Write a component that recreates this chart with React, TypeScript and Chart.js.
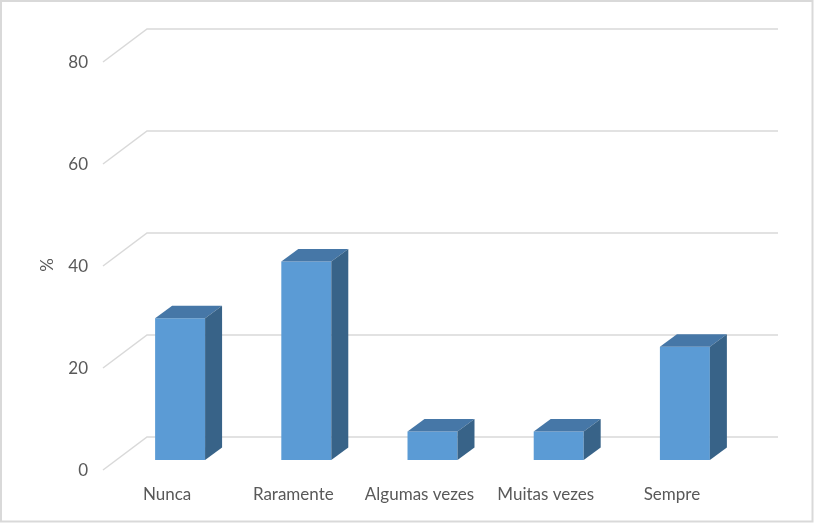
import React, { useEffect, useRef } from "react";
import { Chart, registerables } from "chart.js";

Chart.register(...registerables);

const categories = ["Nunca", "Raramente", "Algumas vezes", "Muitas vezes", "Sempre"];
const percentValues = [27.8, 38.9, 5.6, 5.6, 22.2];
const yAxisTitle = "%";
const yMin = 0;
const yMax = 80;
const yStep = 20;

const FRONT = "#5B9BD5";
const TOP = "#4677A7";
const SIDE = "#386388";
const GRID = "#D9D9D9";
const TEXT = "#595959";
const FONT = "Lato";

const DEPTH_DX = 17;
const DEPTH_DY = -12.5;

const threeD = {
  id: "threeD",
  beforeDraw(chart: any) {
    const { ctx, width, height } = chart;
    ctx.save();
    ctx.fillStyle = "#FFFFFF";
    ctx.fillRect(0, 0, width, height);
    ctx.strokeStyle = GRID;
    ctx.lineWidth = 2;
    ctx.strokeRect(1, 1, width - 2.5, height - 2.5);
    ctx.restore();
  },
  beforeDatasetsDraw(chart: any) {
    const { ctx, chartArea, scales } = chart;
    const y = scales.y;
    ctx.save();
    ctx.strokeStyle = GRID;
    ctx.lineWidth = 1.5;
    for (const t of y.ticks) {
      const yb = y.getPixelForValue(t.value);
      ctx.beginPath();
      ctx.moveTo(chartArea.left - 14, yb + 10);
      ctx.lineTo(chartArea.left + 30, yb - 23);
      ctx.lineTo(chartArea.right + 30, yb - 23);
      ctx.stroke();
    }
    ctx.restore();
  },
  afterDatasetsDraw(chart: any) {
    const { ctx } = chart;
    const meta = chart.getDatasetMeta(0);
    ctx.save();
    for (const bar of meta.data) {
      const { x, y, base, width } = bar.getProps(["x", "y", "base", "width"], true);
      const l = x - width / 2;
      const r = x + width / 2;
      ctx.fillStyle = TOP;
      ctx.beginPath();
      ctx.moveTo(l, y);
      ctx.lineTo(r, y);
      ctx.lineTo(r + DEPTH_DX, y + DEPTH_DY);
      ctx.lineTo(l + DEPTH_DX, y + DEPTH_DY);
      ctx.closePath();
      ctx.fill();
      ctx.fillStyle = SIDE;
      ctx.beginPath();
      ctx.moveTo(r, y);
      ctx.lineTo(r + DEPTH_DX, y + DEPTH_DY);
      ctx.lineTo(r + DEPTH_DX, base + DEPTH_DY);
      ctx.lineTo(r, base);
      ctx.closePath();
      ctx.fill();
    }
    ctx.restore();
  },
  afterDraw(chart: any) {
    const { ctx } = chart;
    ctx.save();
    ctx.translate(47.5, 265);
    ctx.rotate(-Math.PI / 2);
    ctx.fillStyle = TEXT;
    ctx.font = `17px ${FONT}`;
    ctx.textAlign = "center";
    ctx.textBaseline = "middle";
    ctx.fillText(yAxisTitle, 0, 0);
    ctx.restore();
  },
};

export default function App() {
  const ref = useRef<HTMLCanvasElement>(null);
  useEffect(() => {
    document.body.style.margin = "0";
    const canvas = ref.current;
    if (!canvas) return;
    const chart = new Chart(canvas, {
      type: "bar",
      data: {
        labels: categories,
        datasets: [
          {
            data: percentValues,
            backgroundColor: FRONT,
            borderWidth: 0,
            categoryPercentage: 1,
            barPercentage: 0.396,
          },
        ],
      },
      options: {
        responsive: false,
        animation: false,
        devicePixelRatio: 1,
        layout: { padding: { left: 30, top: 52, right: 66, bottom: 20 } },
        plugins: { legend: { display: false }, tooltip: { enabled: false } },
        scales: {
          x: {
            grid: { display: false, drawTicks: false },
            border: { display: false },
            ticks: {
              color: TEXT,
              font: { family: FONT, size: 17 },
              padding: 24,
              labelOffset: -13,
              maxRotation: 0,
              autoSkip: false,
            },
            afterFit: (s: any) => {
              s.height = 43;
            },
          },
          y: {
            min: yMin,
            max: yMax,
            grid: { display: false, drawTicks: false },
            border: { display: false },
            ticks: {
              stepSize: yStep,
              color: TEXT,
              font: { family: FONT, size: 17 },
              padding: 29,
              labelOffset: 11,
            },
            afterFit: (s: any) => {
              s.width = 87;
            },
          },
        },
      },
      plugins: [threeD],
    });
    return () => chart.destroy();
  }, []);
  return (
    <div style={{ position: "fixed", left: 0, top: 0 }}>
      <canvas ref={ref} width={814} height={523} style={{ display: "block" }} />
    </div>
  );
}
